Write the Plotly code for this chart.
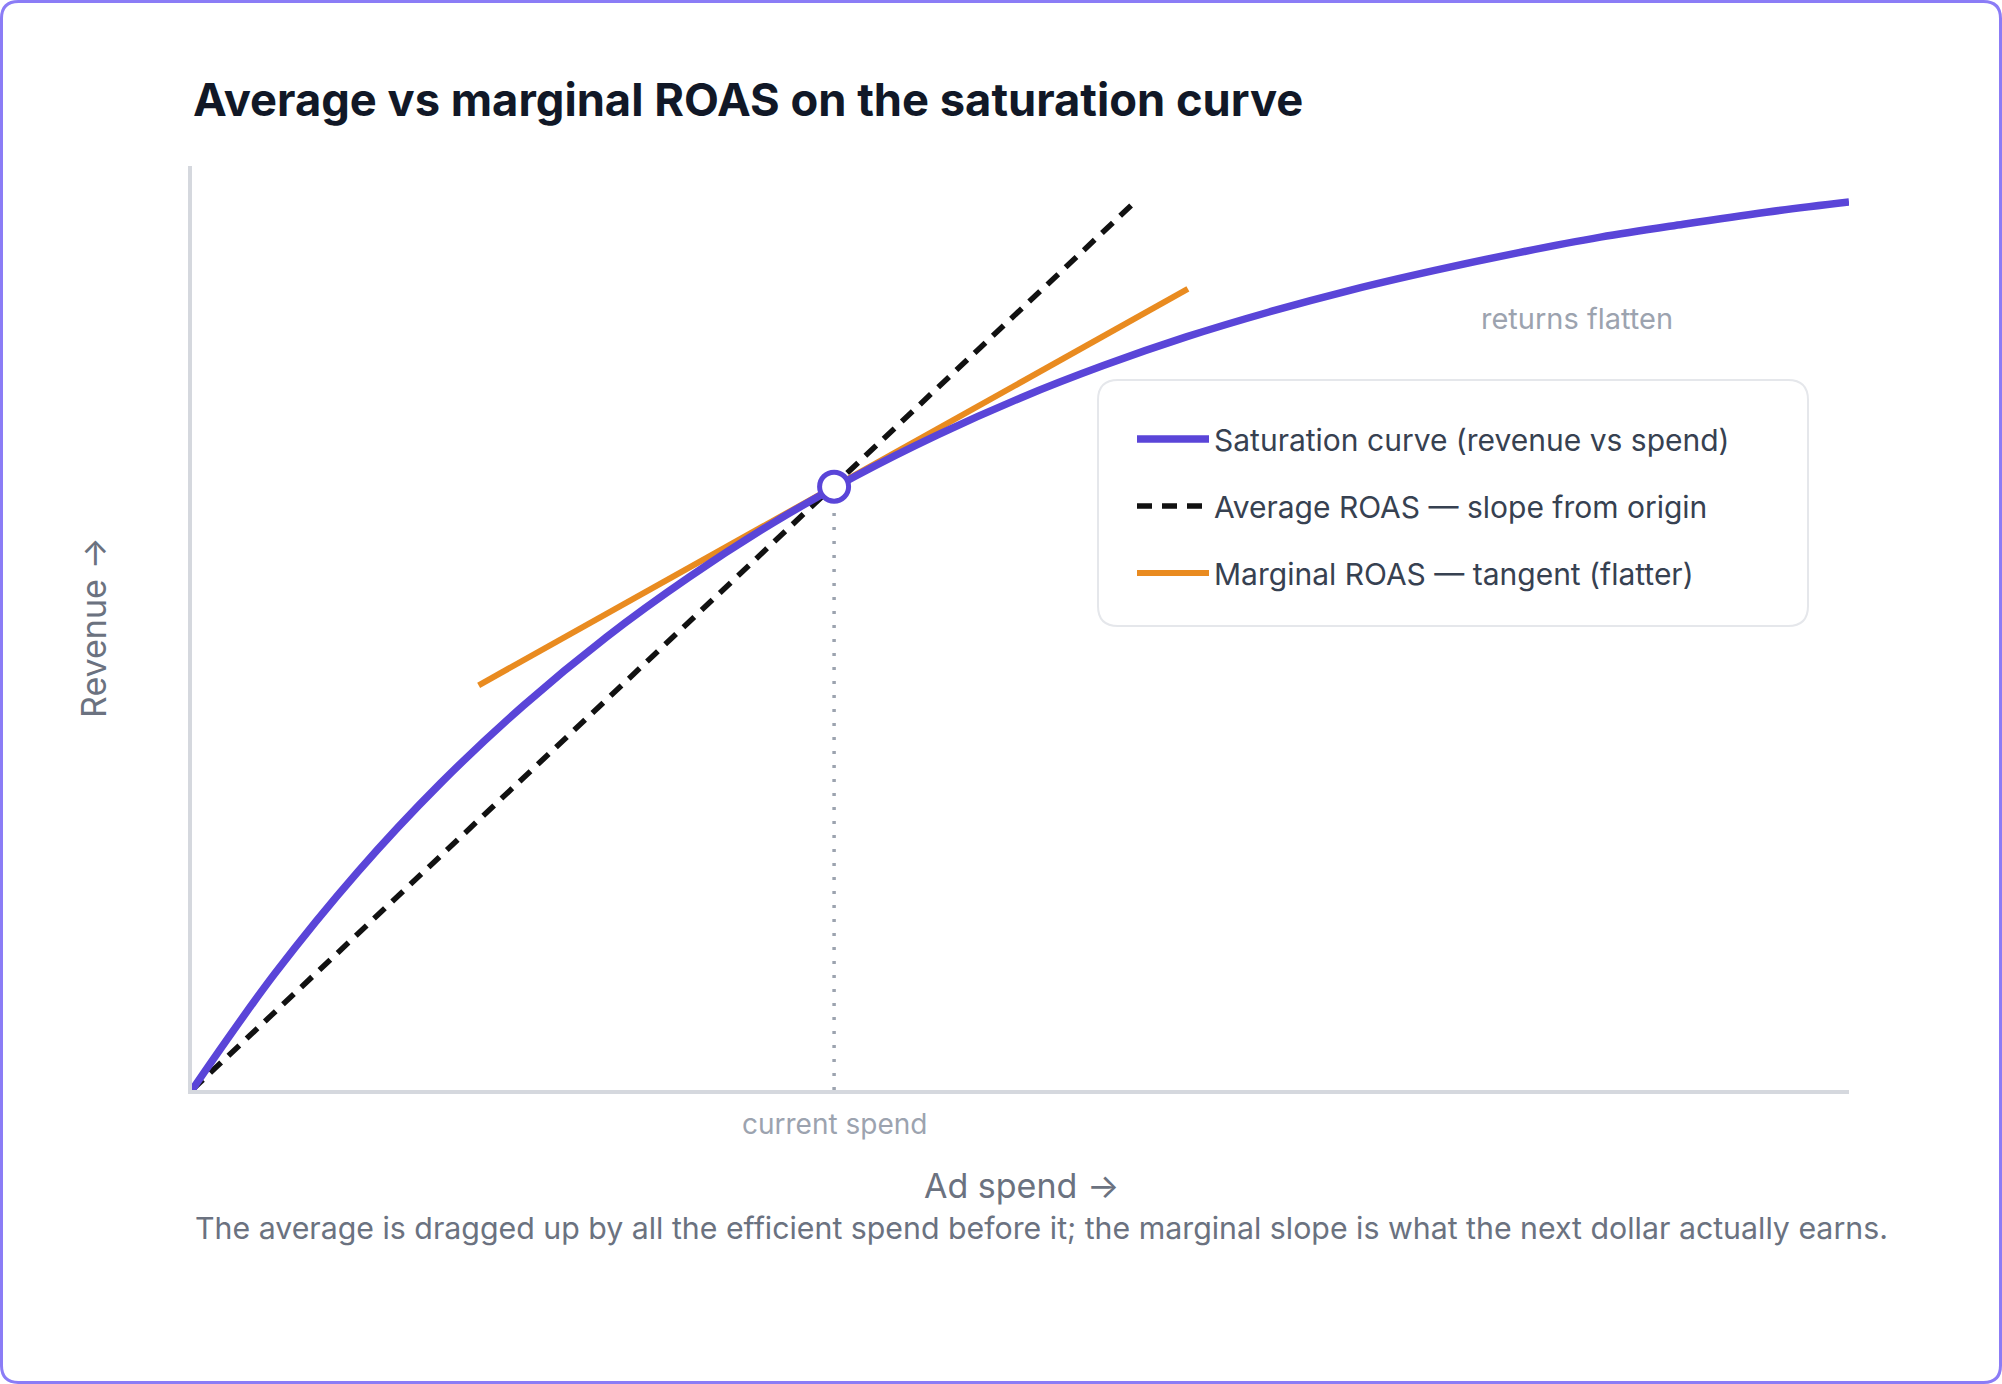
import plotly.graph_objects as go

# saturation curve (spend and revenue in arbitrary units, 0-100)
spend = [0, 5, 10, 15, 20, 25, 30, 35, 40, 45, 50, 55, 60, 65, 70, 75, 80, 85, 90, 95, 100]
revenue = [0, 12.6, 23.6, 33.2, 41.6, 49.0, 55.5, 61.3, 66.4, 70.9, 74.9, 78.4, 81.5, 84.2, 86.6, 88.7, 90.6, 92.3, 93.7, 95.0, 96.1]

# current spend point
current_spend = [38.75]
current_revenue = [65.3]

# average ROAS line (from origin through the point)
avg_x = [0, 56.9]
avg_y = [0, 96.1]

# marginal ROAS tangent at the point
marg_x = [17.3, 60.1]
marg_y = [43.8, 86.7]

labels = ["Saturation curve (revenue vs spend)",
          "Average ROAS — slope from origin",
          "Marginal ROAS — tangent (flatter)"]

PURPLE = "#5a45d8"
ORANGE = "#e98b20"
FONT = "Inter, 'Noto Sans', sans-serif"

W, H = 2002, 1384
L, R, T, B = 192, 153, 166, 294
PW, PH = W - L - R, H - T - B


def px(x):
    return (x - L) / PW


def py(y):
    return (H - B - y) / PH


def rounded_rect(x0, y0, x1, y1, r):
    pts = [("M", [(x0 + r, y0)]), ("L", [(x1 - r, y0)]), ("Q", [(x1, y0), (x1, y0 + r)]),
           ("L", [(x1, y1 - r)]), ("Q", [(x1, y1), (x1 - r, y1)]), ("L", [(x0 + r, y1)]),
           ("Q", [(x0, y1), (x0, y1 - r)]), ("L", [(x0, y0 + r)]), ("Q", [(x0, y0), (x0 + r, y0)])]
    s = ""
    for cmd, ps in pts:
        s += cmd + " " + " ".join(f"{px(a):.5f},{py(b):.5f}" for a, b in ps) + " "
    return s + "Z"


fig = go.Figure()

# drawing order: dashed, tangent, drop line, curve, marker (legend order set by legendrank)
fig.add_trace(go.Scatter(
    x=avg_x, y=avg_y, mode="lines", name=labels[1], legendgroup="b", legendrank=2,
    line=dict(color="#111111", width=5.5, dash="15px,10px"),
    hoverinfo="skip"))

fig.add_trace(go.Scatter(
    x=marg_x, y=marg_y, mode="lines", name=labels[2], legendgroup="c", legendrank=3,
    line=dict(color=ORANGE, width=6),
    hoverinfo="skip"))

# dotted drop line to the x axis
fig.add_trace(go.Scatter(
    x=[current_spend[0], current_spend[0]], y=[0, current_revenue[0]], mode="lines",
    line=dict(color="#9ca3af", width=3.5, dash="3px,11px"),
    showlegend=False, hoverinfo="skip"))

fig.add_trace(go.Scatter(
    x=spend, y=revenue, mode="lines", name=labels[0], legendgroup="a", legendrank=1,
    line=dict(color=PURPLE, width=7.5, shape="spline"),
    hoverinfo="skip"))

fig.add_trace(go.Scatter(
    x=current_spend, y=current_revenue, mode="markers",
    marker=dict(size=29, color="white", line=dict(color=PURPLE, width=5)),
    showlegend=False, hoverinfo="skip"))

shapes = [
    # outer card border
    dict(type="path", xref="paper", yref="paper", layer="below",
         path=rounded_rect(1.5, 1.5, 2000.5, 1382.5, 17),
         line=dict(color="#8b7cf6", width=3), fillcolor="rgba(0,0,0,0)"),
    # legend box
    dict(type="path", xref="paper", yref="paper", layer="below",
         path=rounded_rect(1098, 380, 1808, 626, 20),
         line=dict(color="#e5e7eb", width=2), fillcolor="white"),
]

annotations = [
    dict(text="returns flatten", x=83.6, y=83.5, xref="x", yref="y", showarrow=False,
         xanchor="center", yanchor="middle",
         font=dict(size=29, color="#9ca3af", family=FONT)),
    dict(text="current spend", x=current_spend[0], y=py(1124), xref="x", yref="paper",
         xanchor="center", yanchor="middle",
         showarrow=False, font=dict(size=28, color="#9ca3af", family=FONT)),
    dict(text="Ad spend →", x=px(1021), y=py(1185), xref="paper", yref="paper",
         xanchor="center", yanchor="middle",
         showarrow=False, font=dict(size=34, color="#6b7280", family=FONT)),
    dict(text="Revenue →", x=px(93), y=py(628), xref="paper", yref="paper", textangle=-90,
         xanchor="center", yanchor="middle",
         showarrow=False, font=dict(size=34, color="#6b7280", family=FONT)),
    dict(text="The average is dragged up by all the efficient spend before it; "
              "the marginal slope is what the next dollar actually earns.",
         x=px(193), y=py(1228), xref="paper", yref="paper", xanchor="left", yanchor="middle",
         showarrow=False, font=dict(size=30.3, color="#6b7280", family=FONT)),
]

fig.update_layout(
    width=W, height=H,
    margin=dict(l=L, r=R, t=T, b=B),
    paper_bgcolor="white", plot_bgcolor="rgba(0,0,0,0)",
    font=dict(family=FONT),
    title=dict(text="<b>Average vs marginal ROAS on the saturation curve</b>",
               x=193 / W, xanchor="left", xref="container",
               y=1 - 100 / H, yanchor="middle", yref="container",
               font=dict(size=45.3, color="#111827", family=FONT)),
    xaxis=dict(range=[0, 100], showgrid=False, zeroline=False, showticklabels=False,
               ticks="", showline=True, linecolor="#d5d8de", linewidth=3.5),
    yaxis=dict(range=[0, 100], showgrid=False, zeroline=False, showticklabels=False,
               ticks="", showline=True, linecolor="#d5d8de", linewidth=3.5),
    legend=dict(x=px(1132), y=py(413), xanchor="left", yanchor="top",
                bgcolor="rgba(0,0,0,0)", borderwidth=0, itemwidth=72,
                tracegroupgap=25, traceorder="grouped",
                font=dict(size=30, color="#374151", family=FONT)),
    shapes=shapes,
    annotations=annotations,
)

# the page's default body margin would shift the figure by 8px
fig.write_html("out.html", config={"displayModeBar": False},
               post_script="document.body.style.margin='0';")
